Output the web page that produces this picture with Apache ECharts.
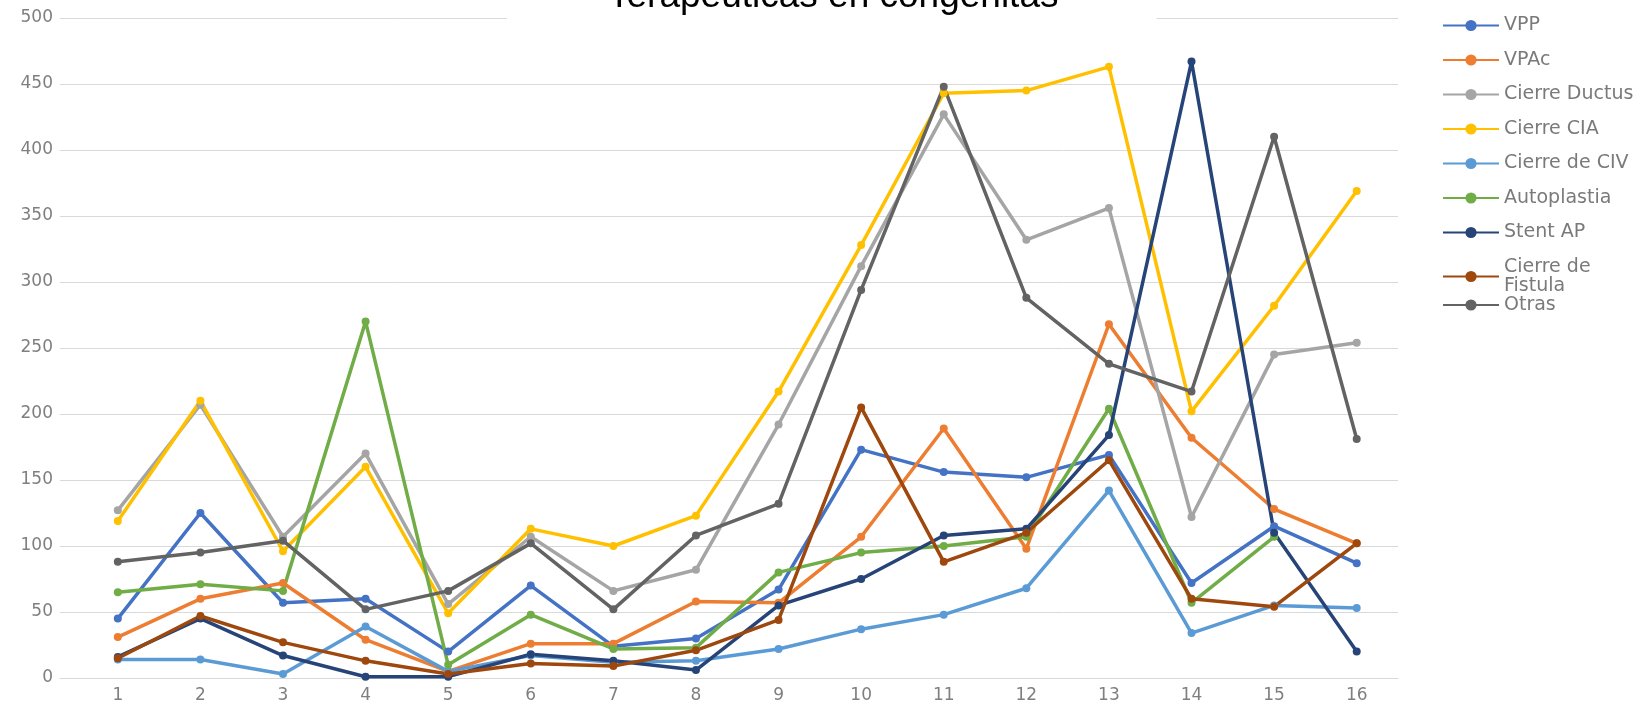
<!DOCTYPE html>
<html>
<head>
<meta charset="utf-8">
<script src="https://cdn.jsdelivr.net/npm/echarts@6/dist/echarts.min.js"></script>
<style>
html,body{margin:0;padding:0;background:#fff;}
#c{width:1641px;height:708px;}
</style>
</head>
<body>
<div id="c"></div>
<script>
const categories = ['1','2','3','4','5','6','7','8','9','10','11','12','13','14','15','16'];
const yTicks = [0,50,100,150,200,250,300,350,400,450,500];

const vpp        = [45,125,57,60,20,70,24,30,67,173,156,152,169,72,115,87];
const vpac       = [31,60,72,29,5,26,26,58,57,107,189,98,268,182,128,102];
const ductus     = [127,207,107,170,56,107,66,82,192,312,427,332,356,122,245,254];
const cia        = [119,210,96,160,49,113,100,123,217,328,443,445,463,202,282,369];
const civ        = [14,14,3,39,5,17,12,13,22,37,48,68,142,34,55,53];
const autoplastia= [65,71,66,270,10,48,22,23,80,95,100,107,204,57,107,null];
const stentAP    = [16,45,17,1,1,18,13,6,55,75,108,113,184,467,110,20];
const fistula    = [15,47,27,13,3,11,9,21,44,205,88,110,165,60,54,102];
const otras      = [88,95,104,52,66,102,52,108,132,294,448,288,238,217,410,181];

const seriesNames = ['VPP','VPAc','Cierre Ductus','Cierre CIA','Cierre de CIV','Autoplastia','Stent AP','Cierre de Fistula','Otras'];
const seriesData  = [vpp,vpac,ductus,cia,civ,autoplastia,stentAP,fistula,otras];
const colors = ['#4472C4','#ED7D31','#A5A5A5','#FFC000','#5B9BD5','#70AD47','#264478','#9E480E','#636363'];

const catValues = categories.map(Number);

const legendBase = {
  orient: 'vertical',
  left: 1437,
  itemWidth: 56,
  itemHeight: 14,
  itemGap: 15.5,
  formatter: function (n) { return n === 'Cierre de Fistula' ? 'Cierre de\nFistula' : n; },
  textStyle: {fontFamily: 'DejaVu Sans', fontSize: 19, color: '#7a7a7a', lineHeight: 19}
};

const chart = echarts.init(document.getElementById('c'));
chart.setOption({
  animation: false,
  color: colors,
  title: {
    text: 'Terapéuticas en congénitas',
    left: 507,
    top: -22,
    padding: [0, 98, 6, 101],
    backgroundColor: '#ffffff',
    textStyle: {fontFamily: 'Liberation Sans', fontSize: 37, fontWeight: 'normal', color: '#000'}
  },
  grid: {left: 60, right: 243, top: 18, bottom: 30},
  legend: [
    Object.assign({}, legendBase, {top: 11, data: seriesNames.slice(0, 8)}),
    Object.assign({}, legendBase, {top: 290.5, data: seriesNames.slice(8)})
  ],
  xAxis: {
    type: 'value',
    min: 0.3,
    max: 16.5,
    axisLine: {show: true, lineStyle: {color: '#d9d9d9', width: 1}},
    axisTick: {show: false},
    splitLine: {show: false},
    axisLabel: {customValues: catValues, fontFamily: 'DejaVu Sans', fontSize: 17, color: '#7f7f7f', margin: 9}
  },
  yAxis: {
    type: 'value',
    min: yTicks[0],
    max: yTicks[yTicks.length - 1],
    interval: 50,
    axisLine: {show: false},
    axisTick: {show: false},
    splitLine: {lineStyle: {color: '#d9d9d9', width: 1}},
    axisLabel: {fontFamily: 'DejaVu Sans', fontSize: 17, color: '#7f7f7f', margin: 7}
  },
  series: seriesNames.map((n, i) => ({
    name: n,
    type: 'line',
    data: seriesData[i].map((v, j) => [catValues[j], v]),
    symbol: 'circle',
    symbolSize: 8,
    showSymbol: true,
    connectNulls: false,
    lineStyle: {width: 3.5, color: colors[i]},
    itemStyle: {color: colors[i]}
  }))
});
</script>
</body>
</html>
